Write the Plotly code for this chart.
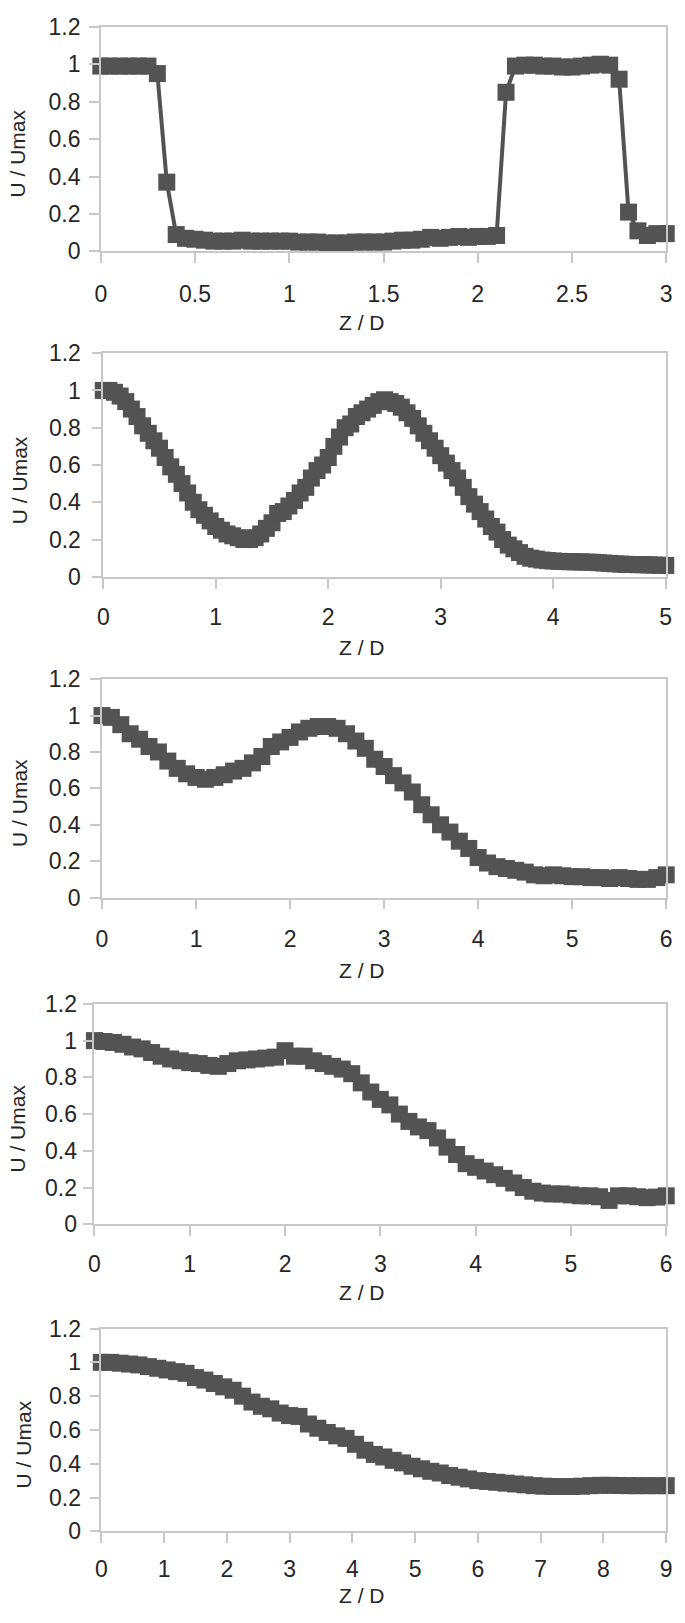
import numpy as np
import plotly.graph_objects as go

# профили U/Umax по Z/D (5 сечений)
z_step_1 = 0.05
u_1 = [0.99, 0.99, 0.99, 0.99, 0.99, 0.99,
       0.95, 0.37, 0.09,
       0.07, 0.065, 0.06, 0.055, 0.055, 0.055, 0.06, 0.055, 0.055, 0.055, 0.055, 0.055,
       0.05, 0.05, 0.05, 0.045, 0.045, 0.045, 0.05, 0.05, 0.05, 0.05,
       0.055, 0.06, 0.06, 0.065, 0.075, 0.07, 0.075, 0.08, 0.075, 0.08, 0.08,
       0.085, 0.85, 0.99,
       0.995, 0.995, 0.99, 0.99, 0.985, 0.985, 0.99, 0.995, 1.0, 0.995,
       0.92, 0.21, 0.11, 0.085, 0.095, 0.095]

z_step_2 = 0.05
u_2 = [1.00, 1.00, 0.99, 0.97, 0.94, 0.90, 0.86, 0.81, 0.77, 0.73,
       0.69, 0.64, 0.59, 0.55, 0.50, 0.45, 0.40, 0.36, 0.33, 0.30,
       0.27, 0.25, 0.23, 0.22, 0.21, 0.20, 0.20, 0.21, 0.23, 0.26,
       0.29, 0.34, 0.35, 0.38, 0.41, 0.45, 0.48, 0.53, 0.57, 0.60,
       0.64, 0.70, 0.75, 0.80, 0.82, 0.86, 0.88, 0.90, 0.92, 0.94,
       0.95, 0.94, 0.93, 0.91, 0.88, 0.85, 0.81, 0.77, 0.73, 0.69,
       0.65, 0.61, 0.57, 0.53, 0.48, 0.43, 0.39, 0.35, 0.31, 0.27,
       0.24, 0.20, 0.17, 0.15, 0.13, 0.11, 0.10, 0.095, 0.09, 0.087,
       0.085, 0.083, 0.082, 0.081, 0.08, 0.08, 0.079, 0.078, 0.076, 0.074,
       0.072, 0.07, 0.068, 0.067, 0.066, 0.065, 0.065, 0.064, 0.063, 0.062,
       0.061]

z_step_3 = 0.1
u_3 = [1.00, 0.99, 0.95, 0.90, 0.87, 0.83, 0.80, 0.75, 0.71, 0.68,
       0.66, 0.65, 0.66, 0.675, 0.695, 0.71, 0.74, 0.775, 0.83, 0.855,
       0.88, 0.91, 0.93, 0.94, 0.94, 0.93, 0.90, 0.86, 0.82, 0.76,
       0.72, 0.67, 0.63, 0.58, 0.51, 0.455, 0.40, 0.36, 0.31, 0.27,
       0.22, 0.19, 0.17, 0.16, 0.15, 0.14, 0.125, 0.12, 0.125, 0.12,
       0.115, 0.115, 0.11, 0.11, 0.105, 0.11, 0.105, 0.10, 0.10, 0.11,
       0.125]

z_step_4 = 0.1
u_4 = [1.00, 0.995, 0.99, 0.98, 0.965, 0.955, 0.935, 0.915, 0.90, 0.89,
       0.88, 0.875, 0.865, 0.86, 0.875, 0.89, 0.895, 0.90, 0.905, 0.91,
       0.945, 0.915, 0.915, 0.89, 0.875, 0.86, 0.845, 0.82, 0.77, 0.72,
       0.68, 0.65, 0.60, 0.56, 0.53, 0.51, 0.47, 0.42, 0.38, 0.33,
       0.31, 0.29, 0.27, 0.25, 0.225, 0.20, 0.18, 0.17, 0.165, 0.165,
       0.16, 0.155, 0.155, 0.15, 0.13, 0.155, 0.155, 0.15, 0.145, 0.148,
       0.155]

z_step_5 = 0.15
u_5 = [1.00, 1.00, 0.995, 0.99, 0.985, 0.975, 0.965, 0.955, 0.945, 0.935,
       0.91, 0.895, 0.875, 0.855, 0.835, 0.80, 0.765, 0.74, 0.725, 0.70,
       0.685, 0.68, 0.635, 0.61, 0.585, 0.565, 0.55, 0.515, 0.48, 0.455,
       0.44, 0.42, 0.405, 0.385, 0.37, 0.355, 0.345, 0.33, 0.32, 0.31,
       0.30, 0.295, 0.29, 0.285, 0.28, 0.275, 0.27, 0.267, 0.265, 0.265,
       0.265, 0.267, 0.27, 0.272, 0.272, 0.271, 0.27, 0.27, 0.27, 0.27,
       0.27]

x_max = [3, 5, 6, 6, 9]
x_dtick = [0.5, 1, 1, 1, 1]
y_ticks = [0, 0.2, 0.4, 0.6, 0.8, 1, 1.2]

x_title = 'Z / D'
y_title = 'U / Umax'

W, H = 685, 1623

# положение панелей в пикселях: (лево, право, верх, низ)
boxes = [(96.5, 672, 14, 242.3),
         (99, 671.5, 345.7, 573),
         (97.7, 672, 677, 899),
         (90, 672, 1007, 1231),
         (97, 672, 1337, 1543)]
xlab_standoff = [11, 9, 10, 8, 6]
ylab_standoff = [4, 6, 5, 1, 4]
xtitle_y = [315, 645, 973, 1300, 1608]
ytitle_pos = [(12, 143), (14, 475), (13, 803), (12, 1134), (18, 1455)]


def px(xp):
    return xp / W


def py(yp):
    return 1 - yp / H


C_DATA = '#535353'
C_AXIS = '#c8c8c8'
C_TEXT = '#262626'
FONT = 'Liberation Sans, Arial, sans-serif'

steps = [z_step_1, z_step_2, z_step_3, z_step_4, z_step_5]
profiles = [u_1, u_2, u_3, u_4, u_5]

fig = go.Figure()
annotations = []
for i, (step, u) in enumerate(zip(steps, profiles)):
    n = i + 1
    sfx = '' if n == 1 else str(n)
    z = np.round(np.arange(len(u)) * step, 4)
    fig.add_trace(go.Scatter(
        x=z, y=u, mode='lines+markers',
        line=dict(color=C_DATA, width=4),
        marker=dict(symbol='square', size=17, color=C_DATA),
        cliponaxis=False, showlegend=False,
        xaxis='x' + sfx, yaxis='y' + sfx,
    ))
    l, r, t, b = boxes[i]
    common = dict(showline=True, linecolor=C_AXIS, linewidth=1.5, mirror=True,
                  ticks='outside', ticklen=10, tickcolor=C_AXIS, tickwidth=1.5,
                  showgrid=False, zeroline=False, ticklabeloverflow='allow',
                  tickfont=dict(family=FONT, size=23, color=C_TEXT))
    fig.update_layout(**{
        'xaxis' + sfx: dict(domain=[px(l), px(r)], range=[0, x_max[i]], dtick=x_dtick[i],
                            anchor='y' + sfx, ticklabelstandoff=xlab_standoff[i], **common),
        'yaxis' + sfx: dict(domain=[py(b), py(t)], range=[0, 1.2], tickvals=y_ticks,
                            anchor='x' + sfx, ticklabelstandoff=ylab_standoff[i], **common),
    })
    annotations.append(dict(text=x_title, x=px(362), y=py(xtitle_y[i]),
                            xref='paper', yref='paper', showarrow=False,
                            xanchor='center', yanchor='middle',
                            font=dict(family=FONT, size=21, color=C_TEXT)))
    tx, ty = ytitle_pos[i]
    annotations.append(dict(text=y_title, x=px(tx), y=py(ty), textangle=-90,
                            xref='paper', yref='paper', showarrow=False,
                            xanchor='center', yanchor='middle',
                            font=dict(family=FONT, size=21, color=C_TEXT)))

fig.update_layout(width=W, height=H, margin=dict(l=0, r=0, t=0, b=0),
                  paper_bgcolor='white', plot_bgcolor='white',
                  annotations=annotations)

# убираем стандартные поля страницы, чтобы рисунок занял всё окно
fig.write_html('out.html', config={'displayModeBar': False},
               post_script="document.body.style.margin = '0px';")
